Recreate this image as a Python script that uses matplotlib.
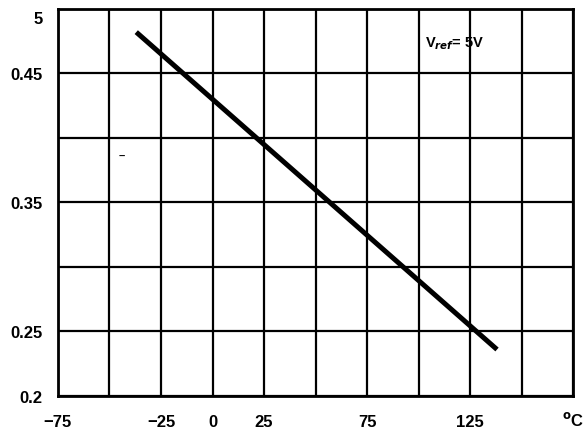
import numpy as np
import matplotlib.pyplot as plt
import matplotlib.transforms as mtransforms

# data
temp = [-37, 138]
ratio = [0.482, 0.236]

x_grid = np.arange(-75, 176, 25)
x_labels = ['\u221275', '', '\u221225', '0', '25', '', '75', '', '125', '', '']
y_grid = [0.2, 0.25, 0.3, 0.35, 0.4, 0.45, 0.5]
y_labels = ['0.2', '0.25', '', '0.35', '', '0.45', '5']

plt.rcParams['font.family'] = ['Liberation Sans', 'DejaVu Sans']
plt.rcParams['font.weight'] = 'bold'

fig = plt.figure(figsize=(5.85, 4.31), dpi=100)
ax = fig.add_axes([0.099, 0.079, 0.881, 0.898])

ax.plot(temp, ratio, color='black', lw=3.6, solid_capstyle='butt')

ax.set_xlim(-75, 175)
ax.set_ylim(0.2, 0.5)
ax.set_xticks(x_grid)
ax.set_xticklabels(x_labels)
ax.set_yticks(y_grid)
ax.set_yticklabels(y_labels)
ax.grid(color='black', lw=1.6)
ax.tick_params(length=0, labelsize=12)
ax.tick_params(axis='x', pad=13)
ax.tick_params(axis='y', pad=11)
for s in ax.spines.values():
    s.set_linewidth(2)

# the top "5" sits a little below the frame in the original
top = ax.get_yticklabels()[-1]
top.set_transform(top.get_transform() +
                  mtransforms.ScaledTranslation(0, -6 / 72, fig.dpi_scale_trans))

ax.text(1.0, -0.06, '$^{\\mathbf{o}}$C', fontsize=12, fontweight='bold',
        ha='center', va='center', transform=ax.transAxes)
ax.text(103, 0.4736, 'V$_{\\mathit{ref}}$= 5V', fontsize=10.5, fontweight='bold',
        ha='left', va='center')
ax.text(-44, 0.386, '\u2013', fontsize=8, ha='center', va='center')

fig.savefig('out.png', dpi=100)
